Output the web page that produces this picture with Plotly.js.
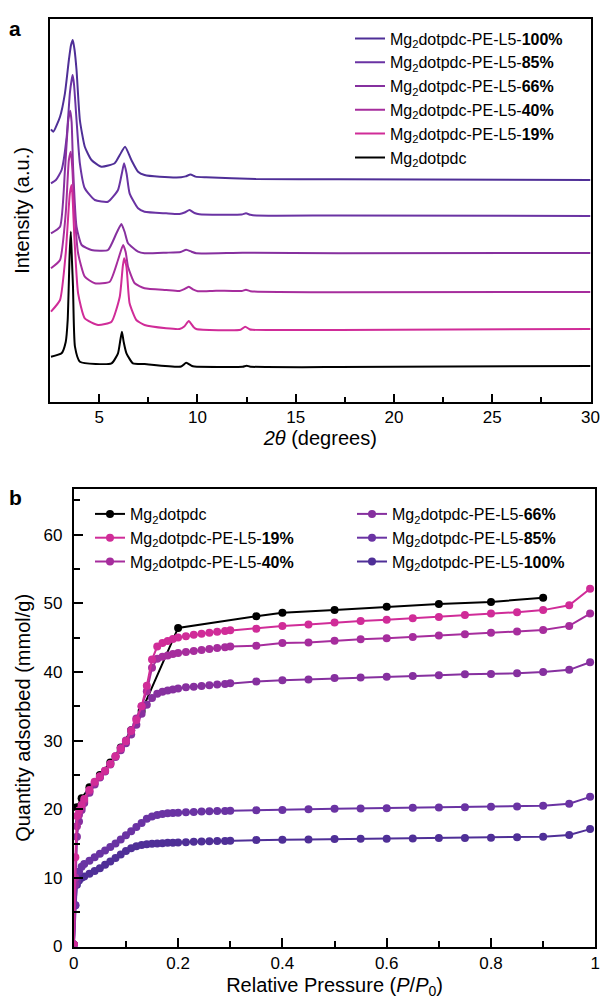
<!DOCTYPE html>
<html>
<head>
<meta charset="utf-8">
<script src="https://cdn.plot.ly/plotly-3.0.1.min.js"></script>
<style>html,body{margin:0;padding:0;background:#fff;}#chart{width:600px;height:999px;}</style>
</head>
<body>
<div id="chart"></div>
<script>
// ---------- Panel a: PXRD (2θ in degrees, intensity in arbitrary units, stacked) ----------
const tt_100 = [2.55, 2.67, 3.01, 3.26, 3.46, 3.57, 3.66, 3.75, 3.85, 4.02, 4.27, 4.61, 5.12, 5.79, 6.05, 6.32, 6.64, 6.98, 7.31, 8.08, 9.17, 9.4, 9.65, 9.9, 10.44, 12.98, 17.2, 30];
const int_100 = [272.7, 270.3, 285.3, 308.7, 342, 357, 362, 352, 332, 282, 255.3, 242, 235.3, 238.7, 247, 255.3, 242, 230.3, 227, 225.3, 224.7, 225.6, 227.4, 225.4, 224.7, 223, 222.8, 222];

const tt_85 = [2.55, 2.8, 3.09, 3.35, 3.51, 3.6, 3.65, 3.72, 3.85, 4.02, 4.27, 4.78, 5.45, 5.96, 6.15, 6.27, 6.4, 6.55, 6.98, 7.31, 8.41, 9.09, 9.35, 9.6, 9.85, 10.1, 12.25, 12.47, 12.7, 12.98, 17.2, 30];
const int_85 = [218.7, 222, 232, 265.3, 308.7, 322, 327, 318, 282, 238.7, 213.7, 202, 200.3, 212, 228, 238.7, 228, 208.7, 193.7, 190.3, 188.7, 188, 189.5, 192, 189, 187.7, 187.5, 188.7, 187.2, 186.5, 186.5, 186];

const tt_66 = [2.55, 3.01, 3.26, 3.43, 3.53, 3.6, 3.68, 3.85, 4.11, 4.61, 5.45, 5.88, 6.13, 6.3, 6.47, 6.98, 7.31, 8.41, 9.15, 9.43, 9.7, 9.94, 12.3, 17.2, 30];
const int_66 = [168.7, 175.3, 232, 282, 291.3, 280, 232, 175.3, 157, 152, 152, 168.7, 178, 170, 158.7, 150.3, 148.7, 149.3, 150, 152.3, 150.3, 148.7, 149.3, 148.7, 149];

const tt_40 = [2.55, 3.01, 3.3, 3.46, 3.56, 3.64, 3.73, 3.93, 4.27, 4.78, 5.54, 5.96, 6.22, 6.35, 6.47, 6.81, 7.31, 8.41, 9.09, 9.33, 9.56, 9.8, 10.02, 10.95, 12.25, 12.47, 12.7, 17.2, 30];
const int_40 = [133.7, 142, 188.7, 242, 250.3, 232, 195.3, 148.7, 125.3, 118.7, 120.3, 142, 157, 150, 135.3, 118.7, 113.7, 112, 111, 112.8, 115.3, 112.3, 110.8, 111.3, 111, 112.3, 110.8, 109.8, 110];

const tt_19 = [2.55, 3.01, 3.3, 3.51, 3.6, 3.66, 3.73, 3.93, 4.27, 4.95, 5.63, 6.05, 6.2, 6.27, 6.39, 6.55, 6.89, 7.31, 8.41, 9.09, 9.33, 9.56, 9.8, 9.94, 12.2, 12.43, 12.65, 12.8, 17.2, 30];
const int_19 = [90.3, 102, 148.7, 208.7, 217, 200, 168.7, 108.7, 83.7, 77, 80.3, 105.3, 135, 143.7, 135.3, 98.7, 82, 77, 73.7, 73, 75.5, 81, 75, 73, 72.2, 75.3, 72.8, 72.2, 72, 73];

const tt_0 = [2.55, 3.09, 3.3, 3.4, 3.5, 3.56, 3.62, 3.67, 3.77, 4.02, 5.63, 5.96, 6.08, 6.16, 6.25, 6.39, 6.72, 7.31, 9.17, 9.43, 9.7, 9.85, 12.3, 12.5, 12.7, 17.2, 30];
const int_0 = [45.3, 48.7, 60, 82, 148.7, 170.3, 140, 115.3, 55.3, 40.3, 38.7, 48.7, 62, 70.3, 60, 48.7, 38.7, 38, 35.5, 39.3, 36.2, 35.5, 35.3, 36.3, 35.3, 34.9, 36];

// ---------- Panel b: N2 isotherms (relative pressure, mmol/g) ----------
const pLow = [0.0002, 0.003, 0.006, 0.01, 0.015, 0.02, 0.03, 0.04, 0.05, 0.06, 0.07, 0.08, 0.09, 0.10, 0.11, 0.12, 0.13, 0.14, 0.15, 0.16, 0.17, 0.18, 0.19, 0.20, 0.215, 0.23, 0.245, 0.26, 0.275, 0.29, 0.30];
const pHigh = [0.35, 0.40, 0.45, 0.50, 0.55, 0.60, 0.65, 0.70, 0.75, 0.80, 0.85, 0.90, 0.95, 0.99];

const q19 = [0.3, 13, 19.0, 19.8, 20.6, 21.5, 22.8, 24.0, 24.8, 25.6, 26.6, 27.7, 28.8, 29.9, 31.4, 33.0, 35.0, 38.0, 41.8, 43.7, 44.2, 44.5, 44.8, 45.0, 45.2, 45.4, 45.55, 45.7, 45.85, 45.95, 46.05,
             46.3, 46.7, 46.9, 47.2, 47.4, 47.6, 47.8, 48.0, 48.3, 48.5, 48.7, 49.0, 49.7, 52.1];
const q40 = [0.3, 10, 17.5, 19.2, 20.3, 21.2, 22.6, 23.8, 24.7, 25.6, 26.6, 27.7, 28.9, 30.0, 31.5, 33.2, 35.0, 37.2, 40.6, 41.9, 42.2, 42.4, 42.6, 42.75, 42.9, 43.05, 43.2, 43.35, 43.5, 43.6, 43.7,
             43.8, 44.2, 44.3, 44.55, 44.75, 44.9, 45.1, 45.3, 45.5, 45.7, 45.9, 46.1, 46.7, 48.5];
const q66 = [0.3, 9, 16, 18.2, 19.9, 20.9, 22.4, 23.6, 24.6, 25.5, 26.5, 27.6, 28.6, 29.6, 30.9, 32.3, 33.9, 35.2, 36.2, 36.8, 37.1, 37.3, 37.45, 37.6, 37.75, 37.85, 37.95, 38.05, 38.15, 38.25, 38.35,
             38.6, 38.8, 38.9, 39.1, 39.2, 39.3, 39.4, 39.5, 39.65, 39.7, 39.8, 40.0, 40.3, 41.4];
const q85 = [0.3, 6, 9.5, 10.9, 11.6, 12.0, 12.5, 13.0, 13.5, 14.0, 14.5, 15.0, 15.6, 16.2, 16.8, 17.4, 18.0, 18.6, 18.95, 19.15, 19.3, 19.4, 19.45, 19.5, 19.55, 19.6, 19.65, 19.7, 19.72, 19.75, 19.78,
             19.85, 19.9, 20.0, 20.05, 20.1, 20.15, 20.2, 20.25, 20.3, 20.35, 20.4, 20.5, 20.8, 21.8];
const q100 = [0.3, 6, 9.0, 9.6, 10.0, 10.2, 10.6, 11.0, 11.4, 11.9, 12.4, 12.9, 13.4, 13.9, 14.3, 14.6, 14.8, 14.9, 14.95, 15.0, 15.05, 15.1, 15.12, 15.15, 15.2, 15.25, 15.3, 15.33, 15.36, 15.38, 15.4,
              15.5, 15.55, 15.6, 15.65, 15.68, 15.7, 15.75, 15.8, 15.82, 15.85, 15.9, 16.0, 16.25, 17.1];

const pBlack = [0.005, 0.015, 0.03, 0.05, 0.07, 0.09, 0.11, 0.13, 0.20, 0.35, 0.40, 0.50, 0.60, 0.70, 0.80, 0.90];
const qBlack = [20.3, 21.6, 23.2, 25.0, 26.8, 29.0, 31.5, 34.3, 46.4, 48.1, 48.6, 49.0, 49.5, 49.9, 50.2, 50.8];

const names = [
  'Mg<sub>2</sub>dotpdc-PE-L5-<b>100%</b>',
  'Mg<sub>2</sub>dotpdc-PE-L5-<b>85%</b>',
  'Mg<sub>2</sub>dotpdc-PE-L5-<b>66%</b>',
  'Mg<sub>2</sub>dotpdc-PE-L5-<b>40%</b>',
  'Mg<sub>2</sub>dotpdc-PE-L5-<b>19%</b>',
  'Mg<sub>2</sub>dotpdc'
];
const colors = ['#4f2f97', '#6a33a3', '#86309f', '#a62d9d', '#d02c98', '#000000'];

const FONT = 'Arial, "Liberation Sans", Helvetica, sans-serif';
const pAll = pLow.concat(pHigh);

const xrdX = [tt_100, tt_85, tt_66, tt_40, tt_19, tt_0];
const xrdY = [int_100, int_85, int_66, int_40, int_19, int_0];
const isoX = [pAll, pAll, pAll, pAll, pAll, pBlack];
const isoY = [q100, q85, q66, q40, q19, qBlack];
// legend placement for panel b: [legend id, rank]
const isoLegend = [['legend3', 3], ['legend3', 2], ['legend3', 1], ['legend2', 3], ['legend2', 2], ['legend2', 1]];

const traces = [];
for (let i = 0; i < 6; i++) {
  traces.push({
    type: 'scatter', mode: 'lines', x: xrdX[i], y: xrdY[i], name: names[i],
    xaxis: 'x', yaxis: 'y', legend: 'legend',
    line: {color: colors[i], width: 2, shape: 'spline', smoothing: 0.5},
    hoverinfo: 'skip'
  });
}
// draw black isotherm first (underneath), then 100% ... 19%
const isoDrawOrder = [5, 0, 1, 2, 3, 4];
for (const i of isoDrawOrder) {
  traces.push({
    type: 'scatter', mode: 'lines+markers', x: isoX[i], y: isoY[i], name: names[i],
    xaxis: 'x2', yaxis: 'y2', legend: isoLegend[i][0], legendrank: isoLegend[i][1],
    line: {color: colors[i], width: 2},
    marker: {color: colors[i], size: 8},
    hoverinfo: 'skip'
  });
}

const axisCommon = {
  showline: true, linewidth: 2, linecolor: '#000', mirror: true,
  showgrid: false, zeroline: false, tickcolor: '#000', ticklabeloverflow: 'allow',
  tickfont: {family: FONT, size: 17, color: '#000'}
};

const layout = {
  width: 600, height: 999,
  margin: {l: 0, r: 0, t: 0, b: 0},
  paper_bgcolor: '#fff', plot_bgcolor: '#fff',
  font: {family: FONT, color: '#000', size: 16},
  showlegend: true,
  xaxis: Object.assign({}, axisCommon, {
    domain: [50/600, 590.5/600], range: [2.5, 30], anchor: 'y',
    tick0: 0, dtick: 5, ticks: 'inside', ticklen: 8, tickwidth: 2, ticklabelstandoff: -1,
    minor: {ticks: 'inside', ticklen: 5, tickwidth: 2, tick0: 0, dtick: 2.5, tickcolor: '#000'},
    title: {text: '<i>2θ</i> (degrees)', font: {family: FONT, size: 20, color: '#000'}, standoff: 3}
  }),
  yaxis: Object.assign({}, axisCommon, {
    domain: [1 - 402/999, 1 - 19/999], range: [0, 383], anchor: 'x',
    showticklabels: false, ticks: '',
    title: {text: 'Intensity (a.u.)', font: {family: FONT, size: 20, color: '#000'}, standoff: 13}
  }),
  xaxis2: Object.assign({}, axisCommon, {
    domain: [73.8/600, 595.3/600], range: [0, 1], anchor: 'y2',
    tick0: 0, dtick: 0.2, ticks: 'inside', ticklen: 9, tickwidth: 2,
    minor: {ticks: 'inside', ticklen: 6, tickwidth: 2, tick0: 0, dtick: 0.1, tickcolor: '#000'},
    title: {text: 'Relative Pressure (<i>P</i>/<i>P</i><sub>0</sub>)', font: {family: FONT, size: 20, color: '#000'}, standoff: 8}
  }),
  yaxis2: Object.assign({}, axisCommon, {
    domain: [1 - 946.5/999, 1 - 489.3/999], range: [0, 66.6], anchor: 'x2',
    tick0: 0, dtick: 10, ticks: 'inside', ticklen: 9, tickwidth: 2, ticklabelstandoff: 6,
    minor: {ticks: 'inside', ticklen: 6, tickwidth: 2, tick0: 0, dtick: 5, tickcolor: '#000'},
    title: {text: 'Quantity adsorbed (mmol/g)', font: {family: FONT, size: 20, color: '#000'}, standoff: 7}
  }),
  legend: {x: 350/600, y: 1 - 21.5/999, xanchor: 'left', yanchor: 'top', bgcolor: 'rgba(0,0,0,0)',
           font: {family: FONT, size: 16, color: '#000'}, traceorder: 'normal'},
  legend2: {x: 90/600, y: 1 - 497/999, xanchor: 'left', yanchor: 'top', bgcolor: 'rgba(0,0,0,0)',
            font: {family: FONT, size: 16, color: '#000'}, traceorder: 'normal'},
  legend3: {x: 352/600, y: 1 - 497/999, xanchor: 'left', yanchor: 'top', bgcolor: 'rgba(0,0,0,0)',
            font: {family: FONT, size: 16, color: '#000'}, traceorder: 'normal'},
  annotations: [
    {text: '<b>a</b>', xref: 'paper', yref: 'paper', x: 7/600, y: 1 - 15/999, xanchor: 'left', yanchor: 'top',
     showarrow: false, font: {family: FONT, size: 21, color: '#000'}},
    {text: '<b>b</b>', xref: 'paper', yref: 'paper', x: 7/600, y: 1 - 484/999, xanchor: 'left', yanchor: 'top',
     showarrow: false, font: {family: FONT, size: 21, color: '#000'}}
  ]
};

Plotly.newPlot('chart', traces, layout, {staticPlot: true, displayModeBar: false});
</script>
</body>
</html>
